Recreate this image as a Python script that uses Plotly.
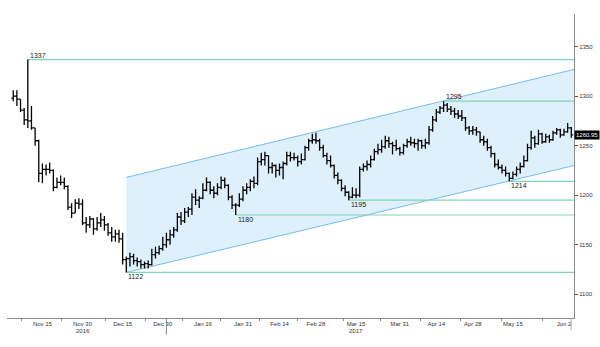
import pandas as pd
import plotly.graph_objects as go

# Daily bars, business days 2016-11-03 .. 2017-06-06 (one row per week)
dates = pd.bdate_range("2016-11-03", "2017-06-06")

high = [
    1306, 1306,
    1297, 1288, 1337, 1290, 1268,
    1256, 1232, 1231, 1233, 1226,
    1218, 1220, 1218, 1210, 1192,
    1196, 1197, 1196, 1178, 1179,
    1177, 1178, 1182, 1179, 1172,
    1168, 1165, 1165, 1162, 1138,
    1142, 1141, 1137, 1135, 1133,
    1134, 1146, 1148, 1149, 1158,
    1162, 1165, 1168, 1182, 1183,
    1187, 1188, 1202, 1206, 1199,
    1212, 1218, 1214, 1209, 1212,
    1219, 1218, 1211, 1200, 1192,
    1202, 1209, 1212, 1216, 1219,
    1238, 1243, 1244, 1240, 1233,
    1231, 1232, 1234, 1244, 1244,
    1243, 1240, 1242, 1250, 1257,
    1262, 1263, 1257, 1251, 1243,
    1240, 1231, 1223, 1216, 1210,
    1204, 1208, 1207, 1229, 1232,
    1235, 1240, 1247, 1252, 1256,
    1260, 1259, 1254, 1256, 1249,
    1252, 1257, 1259, 1257, 1257,
    1256, 1257, 1270, 1280, 1287,
    1290, 1295, 1293, 1290, 1288,
    1286, 1286, 1279, 1270, 1270,
    1269, 1264, 1260, 1257, 1250,
    1243, 1236, 1231, 1229, 1223,
    1224, 1229, 1233, 1240, 1252,
    1265, 1260, 1266, 1263, 1262,
    1261, 1265, 1268, 1267, 1267,
    1273, 1269,
]
low = [
    1295, 1290,
    1284, 1271, 1268, 1266, 1250,
    1213, 1212, 1220, 1222, 1204,
    1207, 1210, 1206, 1185, 1177,
    1182, 1186, 1170, 1162, 1167,
    1160, 1164, 1168, 1164, 1159,
    1153, 1153, 1152, 1130, 1122,
    1128, 1130, 1128, 1126, 1126,
    1126, 1129, 1136, 1140, 1144,
    1147, 1150, 1157, 1163, 1170,
    1172, 1178, 1180, 1190, 1187,
    1196, 1204, 1201, 1197, 1200,
    1206, 1207, 1195, 1186, 1180,
    1188, 1194, 1201, 1204, 1207,
    1210, 1230, 1230, 1222, 1222,
    1218, 1220, 1216, 1230, 1234,
    1235, 1229, 1231, 1235, 1245,
    1252, 1252, 1245, 1238, 1231,
    1228, 1217, 1211, 1204, 1199,
    1195, 1197, 1197, 1198, 1224,
    1225, 1228, 1235, 1241, 1243,
    1247, 1248, 1241, 1245, 1240,
    1241, 1248, 1250, 1248, 1245,
    1247, 1247, 1251, 1264, 1274,
    1282, 1284, 1284, 1281, 1278,
    1277, 1275, 1265, 1261, 1261,
    1260, 1253, 1250, 1245, 1238,
    1228, 1226, 1222, 1219, 1214,
    1216, 1219, 1222, 1228, 1234,
    1246, 1248, 1251, 1252, 1253,
    1253, 1255, 1261, 1258, 1260,
    1263, 1258,
]
close = [
    1300, 1297,
    1286, 1276, 1275, 1268, 1255,
    1222, 1226, 1226, 1225, 1208,
    1213, 1213, 1209, 1188, 1182,
    1192, 1191, 1172, 1170, 1176,
    1166, 1172, 1175, 1170, 1162,
    1158, 1161, 1156, 1135, 1136,
    1138, 1134, 1133, 1130, 1131,
    1130, 1140, 1142, 1146, 1150,
    1155, 1160, 1165, 1178, 1174,
    1183, 1186, 1198, 1195, 1197,
    1205, 1213, 1205, 1202, 1208,
    1215, 1210, 1198, 1190, 1190,
    1196, 1205, 1208, 1214, 1212,
    1234, 1236, 1240, 1228, 1230,
    1225, 1228, 1232, 1240, 1238,
    1238, 1234, 1236, 1248, 1255,
    1256, 1255, 1248, 1240, 1235,
    1230, 1220, 1215, 1207, 1203,
    1198, 1200, 1200, 1226, 1229,
    1231, 1236, 1244, 1246, 1249,
    1255, 1252, 1250, 1247, 1243,
    1250, 1254, 1253, 1252, 1255,
    1250, 1253, 1266, 1276, 1284,
    1288, 1291, 1287, 1285, 1282,
    1280, 1278, 1268, 1265, 1266,
    1264, 1256, 1254, 1248, 1242,
    1231, 1228, 1225, 1222, 1217,
    1221, 1226, 1229, 1235, 1248,
    1258, 1252, 1262, 1254, 1259,
    1256, 1263, 1266, 1261, 1264,
    1268, 1260.95,
]
open_ = [1298] + close[:-1]

# Trend channel drawn from the December low
channel_x = ["2016-12-16", "2017-06-06 18:00"]
channel_upper = [1218, 1327]
channel_lower = [1122, 1230]

# Horizontal support / resistance levels
level_values = [1337, 1122, 1180, 1195, 1295, 1214]
level_start = ["2016-11-09", "2016-12-16", "2017-01-27", "2017-03-13", "2017-04-18", "2017-05-12"]
level_side = ["above", "below", "below", "below", "above", "below"]

tick_dates = ["2016-11-15", "2016-11-30", "2016-12-15", "2016-12-30", "2017-01-16",
              "2017-01-31", "2017-02-14", "2017-02-28", "2017-03-15", "2017-03-31",
              "2017-04-14", "2017-04-28", "2017-05-15", "2017-06-02"]
tick_text = ["Nov 15", "Nov 30", "Dec 15", "Dec 30", "Jan 16", "Jan 31", "Feb 14",
             "Feb 28", "Mar 15", "Mar 31", "Apr 14", "Apr 28", "May 15", "Jun 2"]
minor_ticks = ["2016-11-07 08:00", "2016-11-22 04:00", "2016-12-08 10:00", "2016-12-23 07:00",
               "2017-01-06 07:00", "2017-01-20 17:00", "2017-02-06 14:00", "2017-02-21 01:00",
               "2017-03-09 10:00", "2017-03-23 17:00", "2017-04-07 14:00", "2017-04-24 12:00",
               "2017-05-09 22:00", "2017-05-25 05:00"]
year_labels = [("2016-11-30", "2016"), ("2017-03-15", "2017")]

x_range = ["2016-11-01 07:00", "2017-06-06 18:00"]
y_ticks = [1100, 1150, 1200, 1250, 1300, 1350]

GREEN = "#80d3b2"
BLUE_EDGE = "#78bde8"
BLUE_FILL = "#def0fc"
FONT = "Liberation Sans"


def path_date(d):
    # shape paths take dates with "_" in place of the space
    return d.replace(" ", "_")


fig = go.Figure()

# open/close ticks span half a bar each side, so consecutive bars join up
fig.add_trace(go.Ohlc(
    x=dates, open=open_, high=high, low=low, close=close,
    increasing=dict(line=dict(color="black", width=1.3)),
    decreasing=dict(line=dict(color="black", width=1.3)),
    tickwidth=0.5, showlegend=False, hoverinfo="x+y"))

# channel body and edges, kept beneath the price bars
x0, x1 = path_date(channel_x[0]), path_date(channel_x[1])
fig.add_shape(
    type="path", layer="below", fillcolor=BLUE_FILL, line=dict(width=0),
    path=(f"M {x0},{channel_lower[0]} L {x1},{channel_lower[1]} "
          f"L {x1},{channel_upper[1]} L {x0},{channel_upper[0]} Z"))
for edge in (channel_upper, channel_lower):
    fig.add_shape(type="line", layer="below", x0=channel_x[0], x1=channel_x[1],
                  y0=edge[0], y1=edge[1], line=dict(color=BLUE_EDGE, width=1))

for val, start in zip(level_values, level_start):
    fig.add_shape(type="line", layer="below", x0=start, x1=x_range[1], y0=val, y1=val,
                  line=dict(color=GREEN, width=1.2))

for val, start, side in zip(level_values, level_start, level_side):
    fig.add_annotation(x=start, y=val, text=str(val), showarrow=False,
                       xanchor="left", yanchor="bottom" if side == "above" else "top",
                       yshift=-1 if side == "above" else 1,
                       font=dict(family=FONT, size=7, color="#222"))

for d, txt in year_labels:
    fig.add_annotation(x=d, y=0, yref="paper", text=txt, showarrow=False,
                       yanchor="top", yshift=-8,
                       font=dict(family=FONT, size=6, color="#333"))

last = close[-1]
fig.add_annotation(x=1, xref="paper", y=last, text=f"{last:.2f}", showarrow=False,
                   xanchor="left", yanchor="middle", bgcolor="black", borderpad=1,
                   font=dict(family=FONT, size=6, color="white"))

# year divider and right-edge marker below the axis
fig.add_shape(type="line", x0="2017-01-02", x1="2017-01-02", y0=0, y1=-0.055,
              xref="x", yref="paper", line=dict(color="#888", width=1))
fig.add_shape(type="line", x0=0.995, x1=0.995, y0=0, y1=-0.04,
              xref="paper", yref="paper", line=dict(color="#aaa", width=1))

fig.update_layout(
    width=600, height=347,
    margin=dict(l=7, r=22, t=14, b=29),
    paper_bgcolor="white", plot_bgcolor="white",
    font=dict(family=FONT, size=6, color="#333"),
    xaxis=dict(
        range=x_range, rangebreaks=[dict(bounds=["sat", "mon"])],
        rangeslider=dict(visible=False),
        tickmode="array", tickvals=tick_dates, ticktext=tick_text, ticks="",
        showgrid=False, zeroline=False, showline=True, linecolor="#8c8c8c", linewidth=1,
        tickfont=dict(family=FONT, size=6, color="#333"),
        minor=dict(tickmode="array", tickvals=minor_ticks, ticks="outside",
                   ticklen=2, tickcolor="#8c8c8c", showgrid=False),
    ),
    yaxis=dict(
        range=[1076, 1383], side="right",
        tickmode="array", tickvals=y_ticks, ticks="outside", ticklen=3,
        tickcolor="#555", showgrid=False, zeroline=False,
        showline=True, linecolor="#8c8c8c", linewidth=1,
        tickfont=dict(family=FONT, size=6, color="#333"),
    ),
)

fig.write_html("out.html")
